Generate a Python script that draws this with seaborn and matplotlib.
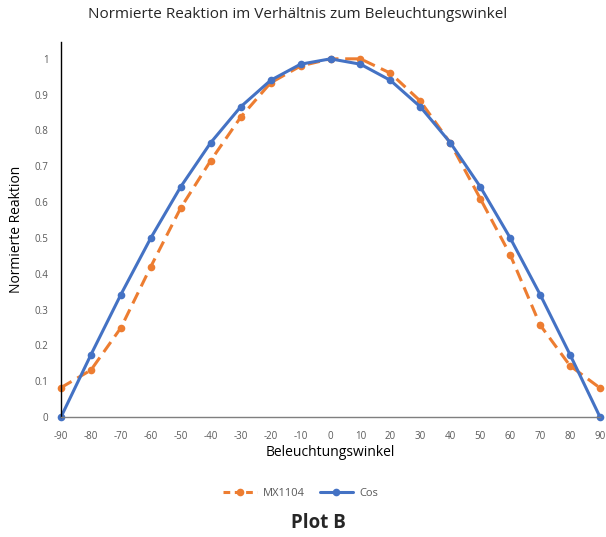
import matplotlib
matplotlib.use("Agg")
import matplotlib.pyplot as plt
import seaborn as sns
import pandas as pd
from matplotlib.lines import Line2D

angles = [-90, -80, -70, -60, -50, -40, -30, -20, -10, 0, 10, 20, 30, 40, 50, 60, 70, 80, 90]
mx1104 = [0.082, 0.131, 0.249, 0.42, 0.584, 0.716, 0.837, 0.933, 0.98, 1.0, 1.0, 0.96, 0.882, 0.765, 0.61, 0.453, 0.257, 0.143, 0.081]
cos_vals = [0.0, 0.174, 0.342, 0.5, 0.643, 0.766, 0.866, 0.94, 0.985, 1.0, 0.985, 0.94, 0.866, 0.766, 0.643, 0.5, 0.342, 0.174, 0.0]
series_names = ["MX1104", "Cos"]
y_ticks = [0, 0.1, 0.2, 0.3, 0.4, 0.5, 0.6, 0.7, 0.8, 0.9, 1]
y_tick_labels = ["0", "0.1", "0.2", "0.3", "0.4", "0.5", "0.6", "0.7", "0.8", "0.9", "1"]

sns.set_theme(style="white")
plt.rcParams['font.family'] = ['Open Sans', 'DejaVu Sans']

df = pd.DataFrame({
    "Beleuchtungswinkel": angles * 2,
    "value": mx1104 + cos_vals,
    "series": [series_names[0]] * len(angles) + [series_names[1]] * len(angles),
})

fig = plt.figure(figsize=(6.06, 5.37), dpi=100)
ax = fig.add_axes([61/606, 1 - 417/537, (600-61)/606, (417-42)/537])

colors = {"MX1104": "#ED7D31", "Cos": "#4472C4"}
sns.lineplot(data=df, x="Beleuchtungswinkel", y="value", hue="series", style="series",
             palette=colors, dashes={"MX1104": (4, 2.2), "Cos": ""},
             markers={"MX1104": "o", "Cos": "o"}, markersize=5.5, markeredgewidth=0,
             linewidth=2.2, ax=ax, legend=False, clip_on=False)

ax.set_xlim(-90, 90)
ax.set_ylim(0, 1.047)
ax.set_xticks(angles)
ax.set_xticklabels([str(a) for a in angles], fontsize=7, color="#595959")
ax.set_yticks(y_ticks)
ax.set_yticklabels(y_tick_labels, fontsize=7, color="#595959")
ax.tick_params(axis="x", length=0, pad=10)
ax.tick_params(axis="y", length=0, pad=9)

for s in ["top", "right"]:
    ax.spines[s].set_visible(False)
ax.spines["left"].set_color("#000000")
ax.spines["left"].set_linewidth(1.0)
ax.spines["bottom"].set_color("#7f7f7f")
ax.spines["bottom"].set_linewidth(1.0)

ax.set_xlabel("Beleuchtungswinkel", fontsize=10, color="#000000", labelpad=2)
ax.set_ylabel("Normierte Reaktion", fontsize=10, color="#000000", labelpad=8)

fig.text(298/606, 1 - 14/537, "Normierte Reaktion im Verhältnis zum Beleuchtungswinkel",
         ha="center", va="center", fontsize=11)

handles = [
    Line2D([], [], color=colors["MX1104"], linestyle=(0, (2.2, 1.5)), linewidth=2.2, marker="o", markersize=5.5, markeredgewidth=0),
    Line2D([], [], color=colors["Cos"], linewidth=2.2, marker="o", markersize=5.5, markeredgewidth=0),
]
fig.legend(handles, series_names, loc="center", bbox_to_anchor=(301/606, 1 - 493/537),
           ncol=2, frameon=False, fontsize=8, handlelength=3, columnspacing=1.3,
           handletextpad=0.6, labelcolor="#595959")

fig.text(318/606, 1 - 523/537, "Plot B", ha="center", va="center", fontsize=13.5, fontweight="bold")

fig.savefig("out.png", dpi=100)
